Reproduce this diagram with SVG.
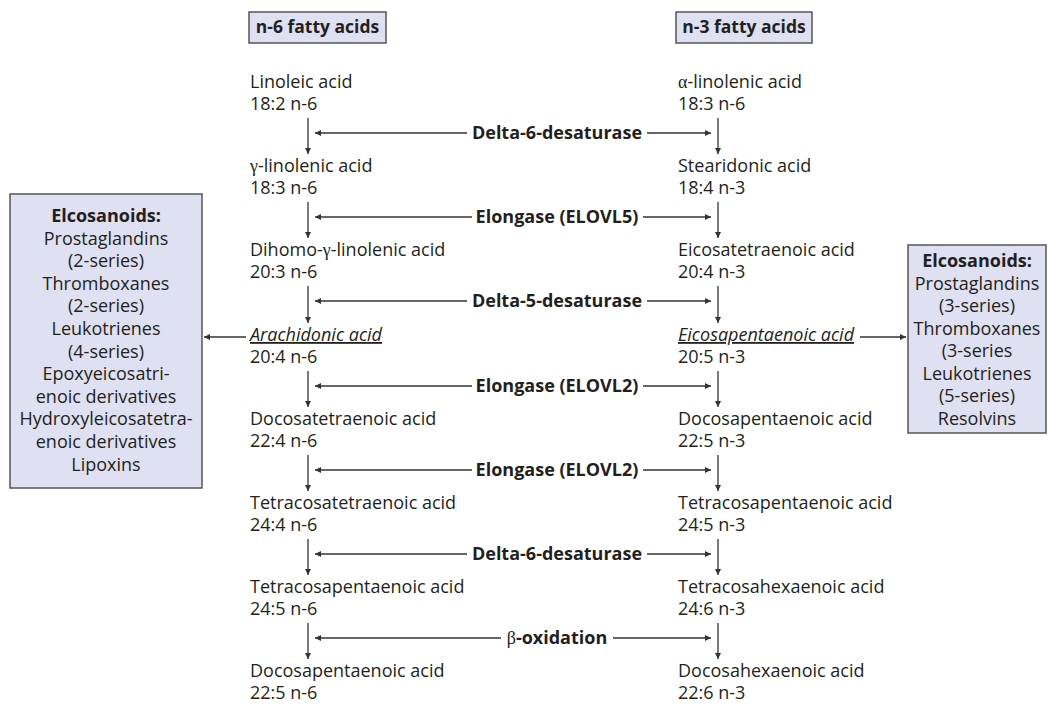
<svg xmlns="http://www.w3.org/2000/svg" width="1049" height="704" viewBox="0 0 1049 704">
<defs>
<style>
.t{font-family:"Open Sans","Noto Sans",sans-serif;font-size:18px;fill:#231f20}
.h{font-size:17.5px}
.b{font-weight:bold}
.g{font-family:"Liberation Serif",serif}
.box{fill:#dfe0f1;stroke:#555;stroke-width:1.5}
.ln{stroke:#333;stroke-width:1.3;fill:none}
.c{text-anchor:middle}
.u{font-style:italic;text-decoration:underline}
</style>
<marker id="ah" viewBox="0 0 10 10" refX="10" refY="5" markerWidth="8" markerHeight="6" markerUnits="userSpaceOnUse" orient="auto">
<path d="M0,0 L10,5 L0,10 z" fill="#333"/>
</marker>
</defs>
<rect width="1049" height="704" fill="#fff"/>

<g id="header-n6"><rect class="box" x="249" y="12" width="137" height="31"/><text class="t h b c" x="317.5" y="33">n-6 fatty acids</text></g>
<g id="header-n3"><rect class="box" x="676" y="12" width="136" height="31"/><text class="t h b c" x="744" y="33">n-3 fatty acids</text></g>

<g id="n6-0"><text class="t" x="250" y="88">Linoleic acid</text><text class="t" x="250" y="110">18:2 n-6</text></g>
<g id="n6-1"><text class="t" x="250" y="172"><tspan class="g">γ</tspan>-linolenic acid</text><text class="t" x="250" y="194">18:3 n-6</text></g>
<g id="n6-2"><text class="t" x="250" y="256">Dihomo-<tspan class="g">γ</tspan>-linolenic acid</text><text class="t" x="250" y="278">20:3 n-6</text></g>
<g id="n6-3"><text class="t u" x="250" y="341">Arachidonic acid</text><text class="t" x="250" y="363">20:4 n-6</text></g>
<g id="n6-4"><text class="t" x="250" y="425">Docosatetraenoic acid</text><text class="t" x="250" y="447">22:4 n-6</text></g>
<g id="n6-5"><text class="t" x="250" y="509">Tetracosatetraenoic acid</text><text class="t" x="250" y="531">24:4 n-6</text></g>
<g id="n6-6"><text class="t" x="250" y="593">Tetracosapentaenoic acid</text><text class="t" x="250" y="615">24:5 n-6</text></g>
<g id="n6-7"><text class="t" x="250" y="677">Docosapentaenoic acid</text><text class="t" x="250" y="699">22:5 n-6</text></g>

<g id="n3-0"><text class="t" x="678" y="88"><tspan class="g">α</tspan>-linolenic acid</text><text class="t" x="678" y="110">18:3 n-6</text></g>
<g id="n3-1"><text class="t" x="678" y="172">Stearidonic acid</text><text class="t" x="678" y="194">18:4 n-3</text></g>
<g id="n3-2"><text class="t" x="678" y="256">Eicosatetraenoic acid</text><text class="t" x="678" y="278">20:4 n-3</text></g>
<g id="n3-3"><text class="t u" x="678" y="341">Eicosapentaenoic acid</text><text class="t" x="678" y="363">20:5 n-3</text></g>
<g id="n3-4"><text class="t" x="678" y="425">Docosapentaenoic acid</text><text class="t" x="678" y="447">22:5 n-3</text></g>
<g id="n3-5"><text class="t" x="678" y="509">Tetracosapentaenoic acid</text><text class="t" x="678" y="531">24:5 n-3</text></g>
<g id="n3-6"><text class="t" x="678" y="593">Tetracosahexaenoic acid</text><text class="t" x="678" y="615">24:6 n-3</text></g>
<g id="n3-7"><text class="t" x="678" y="677">Docosahexaenoic acid</text><text class="t" x="678" y="699">22:6 n-3</text></g>

<g id="eico-n6">
<rect class="box" x="10" y="194" width="192" height="294"/>
<text class="t c" x="106" y="222"><tspan class="b">Elcosanoids:</tspan><tspan x="106" dy="22.6">Prostaglandins</tspan><tspan x="106" dy="22.6">(2-series)</tspan><tspan x="106" dy="22.6">Thromboxanes</tspan><tspan x="106" dy="22.6">(2-series)</tspan><tspan x="106" dy="22.6">Leukotrienes</tspan><tspan x="106" dy="22.6">(4-series)</tspan><tspan x="106" dy="22.6">Epoxyeicosatri-</tspan><tspan x="106" dy="22.6">enoic derivatives</tspan><tspan x="106" dy="22.6">Hydroxyleicosatetra-</tspan><tspan x="106" dy="22.6">enoic derivatives</tspan><tspan x="106" dy="22.6">Lipoxins</tspan></text>
</g>
<g id="eico-n3">
<rect class="box" x="908" y="245" width="138" height="188"/>
<text class="t c" x="977" y="267"><tspan class="b">Elcosanoids:</tspan><tspan x="977" dy="22.5">Prostaglandins</tspan><tspan x="977" dy="22.5">(3-series)</tspan><tspan x="977" dy="22.5">Thromboxanes</tspan><tspan x="977" dy="22.5">(3-series</tspan><tspan x="977" dy="22.5">Leukotrienes</tspan><tspan x="977" dy="22.5">(5-series)</tspan><tspan x="977" dy="22.5">Resolvins</tspan></text>
</g>

<g id="enzymes">
<text class="t b c" x="557" y="139">Delta-6-desaturase</text>
<text class="t b c" x="557" y="223">Elongase (ELOVL5)</text>
<text class="t b c" x="557" y="307">Delta-5-desaturase</text>
<text class="t b c" x="557" y="392">Elongase (ELOVL2)</text>
<text class="t b c" x="557" y="476">Elongase (ELOVL2)</text>
<text class="t b c" x="557" y="560">Delta-6-desaturase</text>
<text class="t b c" x="557" y="644"><tspan class="g" font-weight="normal">β</tspan>-oxidation</text>
</g>

<g id="connectors" class="ln">
<line x1="308" y1="118" x2="308" y2="154" marker-end="url(#ah)"/>
<line x1="308" y1="202" x2="308" y2="238" marker-end="url(#ah)"/>
<line x1="308" y1="286" x2="308" y2="323" marker-end="url(#ah)"/>
<line x1="308" y1="371" x2="308" y2="407" marker-end="url(#ah)"/>
<line x1="308" y1="455" x2="308" y2="491" marker-end="url(#ah)"/>
<line x1="308" y1="539" x2="308" y2="575" marker-end="url(#ah)"/>
<line x1="308" y1="623" x2="308" y2="659" marker-end="url(#ah)"/>
<line x1="718" y1="118" x2="718" y2="154" marker-end="url(#ah)"/>
<line x1="718" y1="202" x2="718" y2="238" marker-end="url(#ah)"/>
<line x1="718" y1="286" x2="718" y2="323" marker-end="url(#ah)"/>
<line x1="718" y1="371" x2="718" y2="407" marker-end="url(#ah)"/>
<line x1="718" y1="455" x2="718" y2="491" marker-end="url(#ah)"/>
<line x1="718" y1="539" x2="718" y2="575" marker-end="url(#ah)"/>
<line x1="718" y1="623" x2="718" y2="659" marker-end="url(#ah)"/>
<line x1="467" y1="133" x2="315" y2="133" marker-end="url(#ah)"/>
<line x1="647" y1="133" x2="711" y2="133" marker-end="url(#ah)"/>
<line x1="472" y1="217" x2="315" y2="217" marker-end="url(#ah)"/>
<line x1="643" y1="217" x2="711" y2="217" marker-end="url(#ah)"/>
<line x1="467" y1="301" x2="315" y2="301" marker-end="url(#ah)"/>
<line x1="647" y1="301" x2="711" y2="301" marker-end="url(#ah)"/>
<line x1="472" y1="386" x2="315" y2="386" marker-end="url(#ah)"/>
<line x1="643" y1="386" x2="711" y2="386" marker-end="url(#ah)"/>
<line x1="472" y1="470" x2="315" y2="470" marker-end="url(#ah)"/>
<line x1="643" y1="470" x2="711" y2="470" marker-end="url(#ah)"/>
<line x1="467" y1="554" x2="315" y2="554" marker-end="url(#ah)"/>
<line x1="647" y1="554" x2="711" y2="554" marker-end="url(#ah)"/>
<line x1="501" y1="638" x2="315" y2="638" marker-end="url(#ah)"/>
<line x1="613" y1="638" x2="711" y2="638" marker-end="url(#ah)"/>
<line x1="246" y1="337" x2="204" y2="337" marker-end="url(#ah)"/>
<line x1="860" y1="337" x2="906" y2="337" marker-end="url(#ah)"/>
</g>
</svg>
